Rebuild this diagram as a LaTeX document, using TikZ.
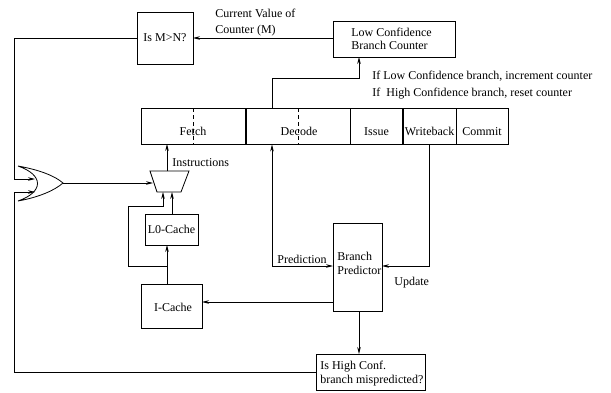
\documentclass[tikz,border=0pt]{standalone}
\usepackage{fontspec}
\setmainfont{Liberation Serif}
\usetikzlibrary{arrows.meta}
\begin{document}
\begin{tikzpicture}[x=1pt,y=-1pt,
  font=\fontsize{12}{13.5}\selectfont,
  line width=0.8pt,
  arr/.style={-{Stealth[length=7pt,width=3.6pt]}},
  box/.style={draw,inner sep=0pt,anchor=north west},
  txt/.style={inner sep=0pt,anchor=base west}]
\useasboundingbox (0,0) rectangle (611,392);
% boxes
\node[box,minimum width=56pt,minimum height=52pt] (mn) at (137,12) {};
\node at (165,38) {Is M>N?};
\node[box,minimum width=122pt,minimum height=36pt] (lc) at (333,21) {};
\node[align=left,inner sep=0pt,anchor=west] at (351,39) {Low Confidence\\Branch Counter};
% pipeline
\node[box,minimum width=105pt,minimum height=36pt] (fe) at (141,108) {};
\node[box,minimum width=104pt,minimum height=36pt] (de) at (246,108) {};
\node[box,minimum width=53pt,minimum height=36pt] (is) at (350,108) {};
\node[box,minimum width=53pt,minimum height=36pt] (wb) at (403,108) {};
\node[box,minimum width=52pt,minimum height=36pt] (co) at (456,108) {};
\draw[line width=1.5pt] (246,108) -- (246,144);
\draw[line width=1.5pt] (403,108) -- (403,144);
\draw[dashed,dash pattern=on 4pt off 3pt] (193,108) -- (193,144);
\draw[dashed,dash pattern=on 4pt off 3pt] (298,108) -- (298,144);
\node[anchor=base] at (193,135) {Fetch};
\node[anchor=base] at (299,135) {Decode};
\node[anchor=base] at (376.5,135) {Issue};
\node[anchor=base] at (429.5,135) {Writeback};
\node[anchor=base] at (482,135) {Commit};
% caches
\node[box,minimum width=53pt,minimum height=31pt] (l0) at (145,214) {};
\node at (171.5,229.5) {L0-Cache};
\node[box,minimum width=61pt,minimum height=44pt] (ic) at (141,284) {};
\node at (173,307) {I-Cache};
% branch predictor
\node[box,minimum width=49pt,minimum height=88pt] (bp) at (333,223) {};
\node[align=left,inner sep=0pt,anchor=north west] at (337,252) {Branch\\Predictor};
\node[box,minimum width=109pt,minimum height=36pt] (hc) at (316,354) {};
\node[align=left,inner sep=0pt,anchor=north west] at (320,361) {Is High Conf.\\branch mispredicted?};
% mux
\draw (150,171) -- (189,171) -- (181,192) -- (157,192) -- cycle;
\coordinate (muxl) at (153,183);
% OR gate
\draw (18,166) .. controls (40,170) and (55,176) .. (63,183)
      .. controls (55,190) and (40,197) .. (18,201)
      .. controls (44,192) and (44,175) .. (18,166);
\coordinate (gout) at (63,183);
% connectors
\draw[arr] (lc.west |- 0,38) -- (193,38);
\draw[arr] (272,108) -- (272,78) -- (359,78) -- (359,57);
\draw[arr] (137,38) -- (14,38) -- (14,179) -- (35,179);
\draw[arr] (316,372) -- (14,372) -- (14,192) -- (35,192);
\draw[arr] (gout) -- (muxl);
\draw[arr] (167,171) -- (167,144);
\draw[arr] (172,214) -- (172,192);
\draw[arr] (167,284) -- (167,245);
\draw[arr] (167,266) -- (128,266) -- (128,206) -- (163,206) -- (163,192);
\draw[arr] (272,266) -- (272,144.5);
\draw[arr] (272,266) -- (333,266);
\draw[arr] (429,144) -- (429,266) -- (382,266);
\draw[arr] (333,302) -- (202,302);
\draw[arr] (359,311) -- (359,354);
% labels
\node[txt] at (172,166) {Instructions};
\node[txt] at (277,263) {Prediction};
\node[txt] at (394,285) {Update};
\node[txt] at (215,17) {Current Value of};
\node[txt] at (215,33) {Counter (M)};
\node[txt] at (372,79) {If Low Confidence branch, increment counter};
\node[txt] at (372,96) {If\ \ High Confidence branch, reset counter};
\end{tikzpicture}
\end{document}
